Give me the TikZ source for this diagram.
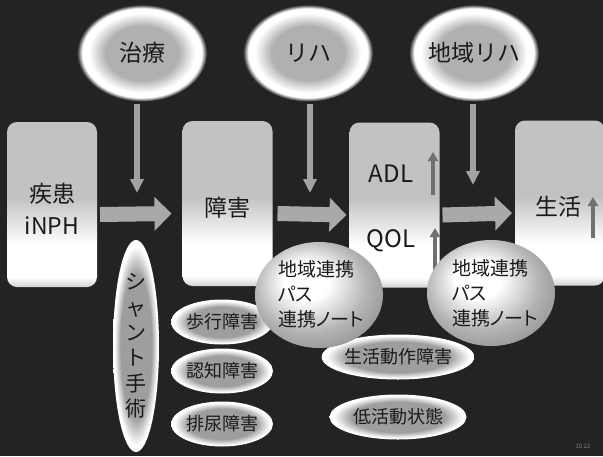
\documentclass[tikz,border=0pt]{standalone}
\usepackage{fontspec}
\setmainfont{Noto Sans CJK JP}
\usetikzlibrary{shapes.geometric,arrows.meta}
\definecolor{bg}{HTML}{232323}
\definecolor{txt}{HTML}{1A1A1A}
\definecolor{ec}{HTML}{B0B0B0}
\definecolor{sc}{HTML}{9E9E9E}
\definecolor{bA}{HTML}{D2D2D2}
\definecolor{bB}{HTML}{C2C2C2}
\definecolor{sA}{HTML}{B4B4B4}
\definecolor{sB}{HTML}{8A8A8A}
\definecolor{fat}{HTML}{A9A9A9}
\definecolor{thin}{HTML}{A2A2A2}
\definecolor{up}{HTML}{707070}
\pgfdeclareradialshading{topglow}{\pgfpoint{0bp}{0bp}}{color(0bp)=(ec);color(14bp)=(ec);color(20.5bp)=(white);color(23bp)=(white);color(25bp)=(bg);color(50bp)=(bg)}
\pgfdeclareradialshading{rimshade}{\pgfpoint{0bp}{0bp}}{color(0bp)=(sc);color(17bp)=(sc);color(23.5bp)=(white);color(25bp)=(white);color(50bp)=(white)}
\pgfdeclareradialshading{sphshade}{\pgfpoint{-6bp}{8bp}}{color(0bp)=(white);color(9bp)=(white);color(22bp)=(sA);color(34bp)=(sB);color(50bp)=(sB)}
\pgfdeclareverticalshading{boxshade}{100bp}{color(0bp)=(bA);color(25bp)=(bA);color(28bp)=(white);color(38bp)=(white);color(52bp)=(bB);color(75bp)=(bB);color(100bp)=(bB)}
\begin{document}
\begin{tikzpicture}[x=1pt,y=-1pt,
  every node/.style={text=txt, inner sep=0pt, outer sep=0pt},
  topell/.style={ellipse, minimum width=130pt, minimum height=97pt, shade, shading=topglow, font=\fontsize{23}{26}\selectfont},
  box/.style={rectangle, rounded corners=10pt, minimum width=90pt, minimum height=165pt, shade, shading=boxshade},
  boxtxt/.style={font=\fontsize{23}{32}\selectfont, align=center},
  smell/.style={ellipse, minimum height=45pt, shade, shading=rimshade, font=\fontsize{18}{20}\selectfont},
  renkei/.style={ellipse, minimum width=128pt, minimum height=106pt, shade, shading=sphshade},
  renkeitxt/.style={anchor=west, align=left, font=\fontsize{19}{25}\selectfont\addfontfeatures{RawFeature=+palt}},
  fatarr/.style={draw=fat, line width=15pt, -{Triangle[length=17pt,width=33pt]}},
  downarr/.style={draw=thin, line width=6pt, -{Triangle[length=14pt,width=13pt]}},
  uparr/.style={draw=up, line width=4.5pt, -{Triangle[length=9pt,width=10pt]}}]
\fill[bg] (0,0) rectangle (603,456);
\clip (0,0) rectangle (603,456);
% top ellipses
\node[topell] (chiryo) at (142,53) {治療};
\node[topell] (riha) at (308,53) {リハ};
\node[topell] (criha) at (474,53) {地域リハ};
% boxes
\node[box] (shikkan) at (52,204.5) {};
\node[box] (shogai) at (227.5,203.5) {};
\node[box] (adlbox) at (394.5,205) {};
\node[box] (seikatsu) at (560,203) {};
\node[boxtxt] (shikkant) at (52,209) {疾患\\iNPH};
\node[boxtxt] (shogait) at (227,208) {障害};
\node[boxtxt, font=\fontsize{24}{26}\selectfont] (adl) at (391,174) {ADL};
\node[boxtxt, font=\fontsize{24}{26}\selectfont] (qol) at (391,241) {QOL};
\node[boxtxt] (seikatsut) at (558,207) {生活};
% fat arrows
\draw[fatarr] ([xshift=3pt,yshift=-10pt]shikkan.east) -- ([xshift=-11pt,yshift=-10pt]shogai.west);
\draw[fatarr] ([xshift=5pt,yshift=-10pt]shogai.east) -- ([xshift=-3pt,yshift=-10pt]adlbox.west);
\draw[fatarr] ([xshift=3pt,yshift=-10pt]adlbox.east) -- ([xshift=-3pt,yshift=-10pt]seikatsu.west);
% down arrows
\coordinate (d1) at (137,193);
\coordinate (d2) at (310,193);
\coordinate (d3) at (473,185);
\draw[downarr] (chiryo.south -| d1) ++(0,2) -- (d1);
\draw[downarr] (riha.south -| d2) ++(0,2) -- (d2);
\draw[downarr] (criha.south -| d3) ++(0,2) -- (d3);
% up arrows
\coordinate (u1) at (433,152);
\coordinate (u2) at (435,228);
\coordinate (u3) at (593,197);
\draw[uparr] (adl.east -| u1) ++(0,21) -- (u1);
\draw[uparr] (qol.east -| u2) ++(0,35) -- (u2);
\draw[uparr] (seikatsut.east -| u3) ++(0,31) -- (u3);
% shunt
\node[ellipse, minimum width=46pt, minimum height=212pt, shade, shading=rimshade, align=center, font=\fontsize{21}{25.4}\selectfont] (shunt) at (136,346) {シ\\ャ\\ン\\ト\\手\\術};
% small ellipses
\node[smell, minimum width=92pt] (hoko) at (222,322) {歩行障害};
\node[smell, minimum width=92pt] (ninchi) at (222,371) {認知障害};
\node[smell, minimum width=92pt] (hainyo) at (222,424) {排尿障害};
\node[smell, minimum width=137pt] (dosa) at (398,357) {生活動作障害};
\node[smell, minimum width=137pt] (tei) at (398,417) {低活動状態};
% renkei ellipses
\node[renkei] (r1) at (319,295) {};
\node[renkeitxt] (r1t) at (278,294) {地域連携\\パス\\連携ノート};
\node[renkei] (r2) at (491,293) {};
\node[renkeitxt] (r2t) at (452,293) {地域連携\\パス\\連携ノート};
\node[text=gray, font=\fontsize{6}{7}\selectfont] (pg) at (583,446) {10.22};
\end{tikzpicture}
\end{document}
